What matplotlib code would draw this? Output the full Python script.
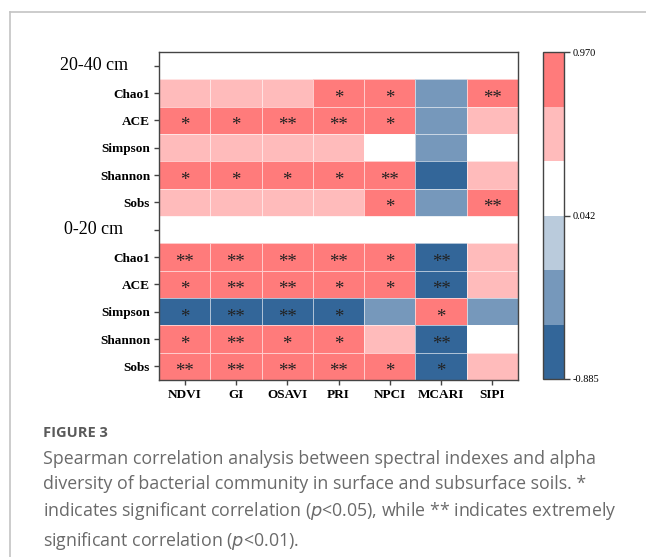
import numpy as np
import matplotlib
matplotlib.use("Agg")
import matplotlib.pyplot as plt
from matplotlib.colors import ListedColormap, BoundaryNorm
from matplotlib.lines import Line2D

# spectral indexes (columns) and alpha diversity indexes (rows)
indexes = ["NDVI", "GI", "OSAVI", "PRI", "NPCI", "MCARI", "SIPI"]
alpha = ["Chao1", "ACE", "Simpson", "Shannon", "Sobs"]
depths = ["20-40 cm", "0-20 cm"]

# Spearman r, 20-40 cm layer
r_deep = [
    [0.52, 0.50, 0.55, 0.74, 0.76, -0.45, 0.88],
    [0.72, 0.73, 0.82, 0.84, 0.77, -0.41, 0.48],
    [0.43, 0.41, 0.45, 0.50, 0.25, -0.38, 0.18],
    [0.73, 0.71, 0.72, 0.75, 0.86, -0.62, 0.44],
    [0.55, 0.53, 0.56, 0.58, 0.76, -0.43, 0.89],
]
sig_deep = [
    ["", "", "", "*", "*", "", "**"],
    ["*", "*", "**", "**", "*", "", ""],
    ["", "", "", "", "", "", ""],
    ["*", "*", "*", "*", "**", "", ""],
    ["", "", "", "", "*", "", "**"],
]

# Spearman r, 0-20 cm layer
r_top = [
    [0.88, 0.90, 0.89, 0.85, 0.78, -0.84, 0.55],
    [0.79, 0.86, 0.87, 0.77, 0.76, -0.82, 0.52],
    [-0.74, -0.83, -0.82, -0.75, -0.48, 0.77, -0.40],
    [0.78, 0.92, 0.79, 0.77, 0.57, -0.885, 0.28],
    [0.91, 0.97, 0.90, 0.88, 0.78, -0.76, 0.54],
]
sig_top = [
    ["**", "**", "**", "**", "*", "**", ""],
    ["*", "**", "**", "*", "*", "**", ""],
    ["*", "**", "**", "*", "", "*", ""],
    ["*", "**", "*", "*", "", "**", ""],
    ["**", "**", "**", "**", "*", "*", ""],
]

vmin, vmax = -0.885, 0.970
colors = ["#336699", "#7698BB", "#BACBDC", "#FFFFFF", "#FFBBBB", "#FF7B7B"]

# stack both layers with an empty header row above each block
blank = np.full((1, len(indexes)), np.nan)
grid = np.vstack([blank, np.array(r_deep), blank, np.array(r_top)])
stars = [[""] * 7] + sig_deep + [[""] * 7] + sig_top
row_labels = [""] + alpha + [""] + alpha

cmap = ListedColormap(colors)
bounds = np.linspace(vmin, vmax, len(colors) + 1)
norm = BoundaryNorm(bounds, cmap.N)

fig = plt.figure(figsize=(6.46, 5.57), dpi=100)
W, H = 646, 557
serif = "Liberation Serif"

ax = fig.add_axes([159 / W, 1 - 380 / H, 359 / W, 328 / H])
mesh = ax.pcolormesh(np.ma.masked_invalid(grid), cmap=cmap, norm=norm,
                     edgecolors=(1, 1, 1, 0.6), linewidth=0.6)
ax.set_xlim(0, len(indexes))
ax.set_ylim(len(row_labels), 0)

for i, row in enumerate(stars):
    for j, s in enumerate(row):
        if s:
            ax.text(j + 0.5, i + 0.7, s, ha="center", va="center",
                    fontsize=13.5, family=serif, color="#222222")

ax.set_xticks(np.arange(len(indexes)) + 0.5)
ax.set_xticklabels(indexes, fontsize=9.5, fontweight="bold", family=serif)
ax.set_yticks(np.arange(len(row_labels)) + 0.5)
ax.set_yticklabels(row_labels, fontsize=9.5, fontweight="bold", family=serif)
ax.tick_params(length=3.5, width=1, color="#444444", pad=3)
for sp in ax.spines.values():
    sp.set_color("#444444")
    sp.set_linewidth(1)

# depth headings on the blank rows
for k, d in enumerate(depths):
    ax.text(-0.181, k * 6 + 0.5, d, transform=ax.get_yaxis_transform(),
            ha="center", va="center", fontsize=13, family=serif)

cax = fig.add_axes([543 / W, 1 - 379 / H, 21 / W, 327 / H])
cb = fig.colorbar(mesh, cax=cax, ticks=[vmax, (vmin + vmax) / 2, vmin])
cb.ax.minorticks_off()
cb.ax.set_yticklabels(["0.970", "0.042", "-0.885"], fontsize=7.5, family=serif)
cb.ax.tick_params(length=4, width=1, color="#444444", pad=2)
cb.outline.set_edgecolor("#444444")
cb.outline.set_linewidth(1)

# panel frame
fig.add_artist(Line2D([10 / W, 1], [1 - 12 / H, 1 - 12 / H], color="#c4c4c4", lw=1.2))
fig.add_artist(Line2D([10 / W, 10 / W], [0, 1 - 12 / H], color="#c4c4c4", lw=1.2))

caption = ("Spearman correlation analysis between spectral indexes and alpha\n"
           "diversity of bacterial community in surface and subsurface soils. *\n"
           "indicates significant correlation ($p$<0.05), while ** indicates extremely\n"
           "significant correlation ($p$<0.01).")
fig.text(43 / W, 1 - 437 / H, "FIGURE 3", fontsize=10.5, fontweight="bold",
         family="Open Sans", color="#5a5a5a", va="baseline")
fig.text(43 / W, 1 - 450 / H, caption, fontsize=12.8, family="Open Sans",
         color="#6a6a6a", va="top", linespacing=1.48)

fig.savefig("out.png", dpi=100)
